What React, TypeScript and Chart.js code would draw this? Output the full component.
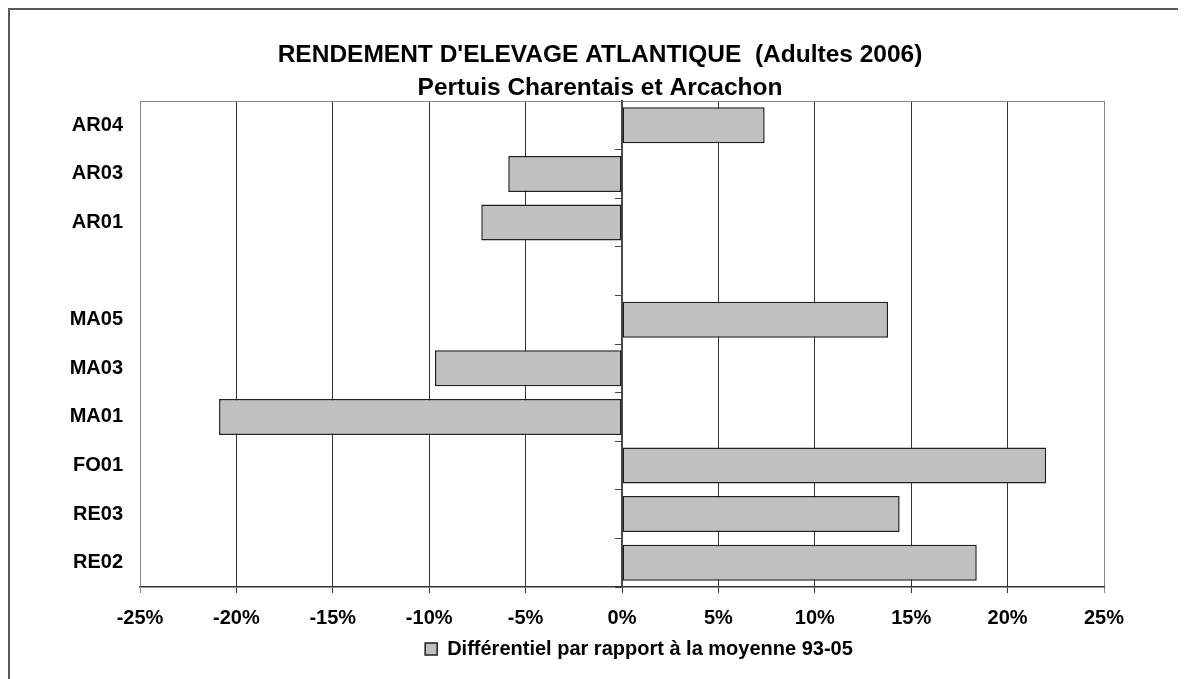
import React, { useEffect, useRef } from 'react';
import { Chart, registerables } from 'chart.js';

Chart.register(...registerables);

const categories: string[] = ['AR04', 'AR03', 'AR01', '', 'MA05', 'MA03', 'MA01', 'FO01', 'RE03', 'RE02'];
const values: (number | null)[] = [7.4, -5.9, -7.3, null, 13.8, -9.7, -20.9, 22.0, 14.4, 18.4];
const xMin = -25;
const xMax = 25;
const xStep = 5;
const titleLines: string[] = ["RENDEMENT D'ELEVAGE ATLANTIQUE  (Adultes 2006)", 'Pertuis Charentais et Arcachon'];
const seriesLabel = 'Différentiel par rapport à la moyenne 93-05';

const FONT = '"Liberation Sans", Arial, Helvetica, sans-serif';

const blockShift = {
  id: 'blockShift',
  afterLayout(chart: any) {
    const l = chart.legend;
    if (l) {
      l.left += 17;
      l.right += 17;
      l.top -= 4;
      l.bottom -= 4;
    }
    const t = chart.titleBlock;
    if (t) {
      t.left += 28;
      t.right += 28;
    }
  },
};

export default function App() {
  const ref = useRef<HTMLCanvasElement | null>(null);

  useEffect(() => {
    if (!ref.current) return;
    const labelFont = { family: FONT, size: 20, weight: 'bold' as const };
    const chart = new Chart(ref.current, {
      type: 'bar',
      data: {
        labels: categories,
        datasets: [
          {
            label: seriesLabel,
            data: values,
            backgroundColor: '#c0c0c0',
            borderColor: '#1e1e1e',
            borderWidth: 1.5,
            borderSkipped: false,
            barPercentage: 0.74,
            categoryPercentage: 1,
          },
        ],
      },
      plugins: [blockShift],
      options: {
        indexAxis: 'y',
        animation: false,
        responsive: false,
        maintainAspectRatio: false,
        layout: { padding: { left: 30, right: 82, top: 0, bottom: 6 } },
        plugins: {
          title: {
            display: true,
            text: titleLines,
            color: '#000',
            font: { family: FONT, size: 24.5, weight: 'bold', lineHeight: 33 / 24.5 },
            padding: { top: 29, bottom: -4 },
          },
          legend: {
            position: 'bottom',
            fullSize: false,
            labels: {
              color: '#000',
              font: labelFont,
              boxWidth: 12,
              boxHeight: 12,
              padding: 0,
            },
          },
          tooltip: { enabled: false },
        },
        scales: {
          x: {
            type: 'linear',
            min: xMin,
            max: xMax,
            ticks: {
              stepSize: xStep,
              color: '#000',
              font: { ...labelFont, lineHeight: 1.2 },
              padding: 13,
              maxRotation: 0,
              callback: (v: any) => v + '%',
            },
            grid: {
              color: (ctx: any) => (ctx.tick && Math.abs(ctx.tick.value) === 25 ? '#888888' : '#333333'),
              tickLength: 6,
              drawTicks: true,
            },
            border: { display: true, color: '#333333', width: 1.5 },
          },
          x2: {
            type: 'linear',
            position: 'top',
            min: xMin,
            max: xMax,
            ticks: { display: false },
            grid: { display: false, drawTicks: false },
            border: { display: true, color: '#888888', width: 1 },
          },
          y: {
            type: 'category',
            position: 'left',
            ticks: { color: '#000', font: labelFont, padding: 17, autoSkip: false },
            grid: { display: false, drawTicks: false },
            border: { display: true, color: '#888888', width: 1 },
            afterFit: (s: any) => {
              s.width = 100;
            },
          },
          y2: {
            type: 'category',
            labels: categories,
            position: { x: 0 },
            offset: true,
            ticks: { display: false },
            grid: { drawOnChartArea: false, drawTicks: true, tickLength: 6, offset: true, color: '#444444' },
            border: { display: true, color: '#4a4a4a', width: 2 },
          },
        },
      } as any,
    });
    return () => chart.destroy();
  }, []);

  return (
    <div
      style={{
        position: 'relative',
        width: 1178,
        height: 671,
        boxSizing: 'border-box',
        borderTop: '2px solid #5a5a5a',
        borderLeft: '2px solid #5a5a5a',
        overflow: 'hidden',
        background: '#fff',
      }}
    >
      <canvas
        ref={ref}
        width={1176}
        height={669}
        style={{ position: 'absolute', left: 0, top: 0, width: 1176, height: 669 }}
      />
    </div>
  );
}
